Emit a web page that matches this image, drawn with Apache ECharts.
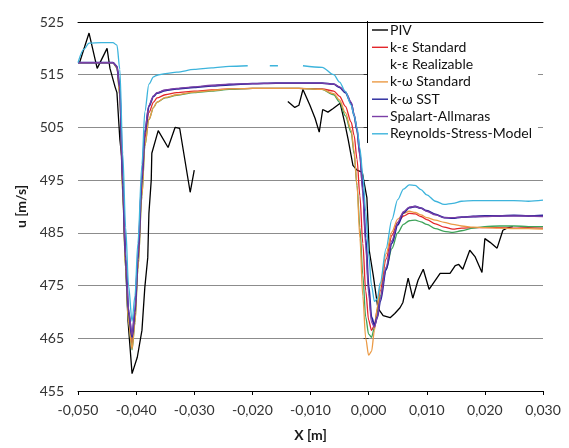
<!DOCTYPE html>
<html>
<head>
<meta charset="utf-8">
<script src="https://cdn.jsdelivr.net/npm/echarts@6/dist/echarts.min.js"></script>
<style>
  html, body { margin: 0; padding: 0; background: #fff; }
  #chart { width: 569px; height: 448px; }
</style>
</head>
<body>
<div id="chart"></div>
<script>
// Streamwise velocity u along X: PIV measurement and six turbulence models

// shared X stations of the simulation profiles [m]
const xModel = [
  -0.0500, -0.0490, -0.0481, -0.0460, -0.0440, -0.0433, -0.0428, -0.0423, -0.0418, -0.0413,
  -0.0407, -0.0402, -0.0397, -0.0390, -0.0385, -0.0378, -0.0370, -0.0364, -0.0350, -0.0330,
  -0.0300, -0.0270, -0.0240, -0.0200, -0.0160, -0.0120, -0.0080, -0.0060, -0.0050, -0.0040,
  -0.0030, -0.0025, -0.0020, -0.0015, -0.0010, -0.0005, 0.0000, 0.0005, 0.0010, 0.0015,
  0.0020, 0.0030, 0.0040, 0.0050, 0.0060, 0.0070, 0.0080, 0.0090, 0.0100, 0.0115,
  0.0130, 0.0145, 0.0160, 0.0180, 0.0200, 0.0225, 0.0250, 0.0275, 0.0300
];

const uKEpsStandard = [
  517.3, 517.3, 517.3, 517.3, 517.3, 516.4, 511.5, 493.0, 479.0, 469.0,
  463.8, 469.0, 479.0, 494.0, 503.0, 507.8, 509.8, 510.6, 511.2, 511.6,
  511.9, 512.1, 512.3, 512.4, 512.4, 512.4, 512.3, 511.9, 510.9, 509.0,
  506.0, 503.5, 499.0, 492.0, 483.0, 474.0, 468.5, 466.5, 467.5, 470.5,
  474.0, 480.0, 484.5, 487.0, 488.2, 488.7, 488.6, 488.1, 487.5, 486.7,
  486.1, 485.7, 485.9, 486.0, 486.0, 486.0, 485.9, 486.0, 485.9
];

const uKEpsRealizable = [
  517.3, 517.3, 517.3, 517.3, 517.3, 516.3, 511.0, 492.0, 478.0, 468.0,
  462.8, 468.0, 478.0, 492.0, 501.5, 506.5, 508.8, 509.8, 510.6, 511.1,
  511.6, 511.9, 512.2, 512.4, 512.4, 512.4, 512.2, 511.2, 509.8, 507.2,
  504.0, 500.0, 494.0, 486.0, 477.0, 469.0, 465.8, 465.2, 467.0, 470.0,
  473.0, 478.0, 482.0, 485.0, 486.6, 487.3, 487.4, 487.1, 486.6, 485.8,
  485.3, 485.1, 485.4, 485.9, 486.2, 486.3, 486.3, 486.2, 486.2
];

const uKOmegaStandard = [
  517.3, 517.3, 517.3, 517.3, 517.3, 516.3, 511.0, 492.0, 478.0, 468.0,
  463.0, 468.0, 478.0, 492.0, 501.5, 506.5, 508.8, 509.8, 510.7, 511.2,
  511.7, 512.0, 512.3, 512.4, 512.4, 512.4, 512.2, 511.4, 510.2, 507.8,
  504.5, 500.5, 494.0, 484.0, 473.0, 465.0, 461.8, 462.5, 466.5, 471.0,
  475.0, 481.0, 485.2, 487.6, 488.7, 489.1, 488.9, 488.4, 487.9, 487.4,
  487.0, 486.6, 486.3, 486.1, 486.0, 485.9, 485.8, 485.8, 485.7
];

const uKOmegaSST = [
  517.3, 517.3, 517.3, 517.3, 517.3, 516.6, 512.5, 494.0, 480.0, 470.0,
  465.2, 470.0, 480.0, 495.0, 504.0, 509.0, 510.9, 511.5, 512.0, 512.3,
  512.6, 512.9, 513.1, 513.3, 513.4, 513.4, 513.4, 513.2, 512.6, 511.6,
  509.6, 507.3, 504.5, 500.0, 493.5, 484.0, 475.0, 469.0, 467.5, 469.0,
  472.0, 478.0, 483.0, 486.5, 488.8, 489.8, 490.0, 489.7, 489.2, 488.5,
  487.9, 487.8, 488.0, 488.1, 488.2, 488.2, 488.3, 488.2, 488.3
];

const uSpalartAllmaras = [
  517.3, 517.3, 517.3, 517.3, 517.3, 516.6, 512.5, 494.5, 480.5, 470.5,
  465.5, 470.5, 480.5, 495.5, 504.3, 509.2, 511.0, 511.6, 512.1, 512.4,
  512.7, 513.0, 513.2, 513.3, 513.4, 513.4, 513.4, 513.2, 512.7, 511.8,
  509.8, 507.5, 504.5, 499.5, 492.5, 482.5, 473.5, 468.0, 467.1, 469.0,
  472.5, 478.5, 483.5, 487.0, 489.0, 489.9, 490.0, 489.7, 489.1, 488.4,
  487.9, 487.9, 488.0, 488.1, 488.1, 488.2, 488.2, 488.2, 488.1
];

// Reynolds-Stress-Model has its own stations (two short gaps in the profile)
const xRsm = [
  -0.0500, -0.0490, -0.0481, -0.0460, -0.0440, -0.0433, -0.0428, -0.0423, -0.0418, -0.0413,
  -0.0407, -0.0402, -0.0397, -0.0390, -0.0385, -0.0378, -0.0370, -0.0364, -0.0350, -0.0330,
  -0.0300, -0.0270, -0.0240, -0.0208, -0.0190, -0.0170, -0.0156, -0.0135, -0.0113, -0.0080,
  -0.0060, -0.0050, -0.0040, -0.0030, -0.0025, -0.0020, -0.0015, -0.0010, -0.0005, 0.0000,
  0.0005, 0.0010, 0.0015, 0.0020, 0.0030, 0.0040, 0.0050, 0.0060, 0.0070, 0.0080,
  0.0090, 0.0100, 0.0115, 0.0130, 0.0145, 0.0160, 0.0180, 0.0200, 0.0225, 0.0250,
  0.0275, 0.0300
];
const uRsm = [
  517.3, 519.8, 521.0, 521.1, 521.1, 520.6, 516.0, 500.0, 486.0, 475.0,
  468.2, 473.0, 483.0, 498.0, 508.0, 513.2, 514.6, 514.9, 515.2, 515.5,
  516.0, 516.3, 516.6, 516.7, null, 516.7, 516.7, null, 516.7, 516.4,
  515.0, 513.6, 511.8, 509.2, 507.3, 505.0, 501.0, 496.0, 489.0, 481.0,
  475.0, 472.0, 472.5, 475.5, 482.0, 487.5, 491.3, 493.3, 494.1, 494.0,
  493.2, 492.2, 491.0, 490.4, 490.6, 491.0, 491.1, 491.1, 491.1, 491.1,
  491.0, 491.2
];

// PIV measurement (no data between the two windows)
const xPiv = [
  -0.0497, -0.0481, -0.0467, -0.0450, -0.0445, -0.0436, -0.0433, -0.0428, -0.0424, -0.0419,
  -0.0414, -0.0407, -0.0398, -0.0390, -0.0385, -0.0380, -0.0378, -0.0374, -0.0373, -0.0362,
  -0.0345, -0.0333, -0.0325, -0.0307, -0.0300,
  -0.0200,
  -0.0139, -0.0127, -0.0120, -0.0113, -0.0101, -0.0092, -0.0085, -0.0079, -0.0070, -0.0061,
  -0.0049, -0.0041, -0.0035, -0.0027, -0.0020, -0.0011, -0.0003, -0.0001, 0.0001, 0.0008,
  0.0016, 0.0025, 0.0037, 0.0045, 0.0054, 0.0059, 0.0068, 0.0076, 0.0085, 0.0094,
  0.0104, 0.0123, 0.0140, 0.0149, 0.0155, 0.0162, 0.0174, 0.0183, 0.0195, 0.0200,
  0.0209, 0.0221, 0.0231, 0.0240, 0.0248
];
const uPiv = [
  517.4, 522.9, 516.2, 520.0, 516.2, 512.6, 511.6, 502.7, 498.7, 481.7,
  468.4, 458.3, 461.4, 466.5, 474.7, 480.3, 488.7, 495.0, 500.1, 504.4,
  501.2, 505.0, 504.8, 492.7, 496.9,
  null,
  509.9, 508.8, 509.2, 512.2, 509.2, 506.7, 504.1, 508.4, 507.9, 508.6,
  509.6, 505.8, 502.6, 497.8, 496.9, 496.5, 491.7, 486.8, 481.7, 476.9,
  470.7, 469.3, 468.9, 469.7, 470.8, 471.8, 476.4, 472.6, 476.0, 478.1,
  474.3, 477.3, 477.3, 478.8, 479.0, 478.1, 481.7, 480.5, 477.5, 483.9,
  483.2, 482.1, 485.5, 486.0, 486.2
];

const seriesNames = [
  'PIV', 'k-ε Standard', 'k-ε Realizable', 'k-ω Standard',
  'k-ω SST', 'Spalart-Allmaras', 'Reynolds-Stress-Model'
];
const seriesColors = ['#000000', '#e3262b', '#3fa35a', '#eb9a45', '#23239a', '#7b3fa6', '#3db4dc'];

const FONT = 'Lato, "Noto Sans", "DejaVu Sans", sans-serif';

function pairs(xs, us) {
  return xs.map((x, i) => [x, us[i] === null ? '-' : us[i]]);
}

const profiles = [
  [xPiv, uPiv],
  [xModel, uKEpsStandard],
  [xModel, uKEpsRealizable],
  [xModel, uKOmegaStandard],
  [xModel, uKOmegaSST],
  [xModel, uSpalartAllmaras],
  [xRsm, uRsm]
];

const series = profiles.map(([xs, us], i) => ({
  name: seriesNames[i],
  type: 'line',
  data: pairs(xs, us),
  symbol: 'none',
  showSymbol: false,
  smooth: i === 0 ? false : 0.3,
  smoothMonotone: 'x',
  connectNulls: false,
  lineStyle: { color: seriesColors[i], width: i === 4 ? 1.8 : 1.3 },
  itemStyle: { color: seriesColors[i] },
  z: 2 + i,
  animation: false
}));

const chart = echarts.init(document.getElementById('chart'), null, { renderer: 'canvas' });

chart.setOption({
  animation: false,
  backgroundColor: '#ffffff',
  grid: { left: 78, right: 26, top: 22, bottom: 57, containLabel: false },
  xAxis: [
    {
      type: 'value',
      min: -0.05, max: 0.03, interval: 0.01,
      position: 'bottom',
      name: 'X [m]',
      nameLocation: 'middle',
      nameGap: 37,
      nameTextStyle: { fontFamily: FONT, fontSize: 14, fontWeight: 'bold', color: '#1a1a1a' },
      axisLine: { show: true, onZero: false, lineStyle: { color: '#000', width: 1 } },
      axisTick: { show: true, length: 4, lineStyle: { color: '#000' } },
      splitLine: { show: false },
      axisLabel: {
        fontFamily: FONT, fontSize: 14, color: '#333', margin: 12,
        formatter: v => (Math.abs(v) < 1e-9 ? 0 : v).toFixed(3).replace('.', ',')
      },
      z: 5
    },
    {
      type: 'value',
      min: -0.05, max: 0.03,
      position: 'top',
      axisLine: { show: true, onZero: false, lineStyle: { color: '#000', width: 1 } },
      axisTick: { show: false },
      axisLabel: { show: false },
      splitLine: { show: false },
      z: 5
    }
  ],
  yAxis: {
    type: 'value',
    min: 455, max: 525, interval: 10,
    name: 'u [m/s]',
    nameLocation: 'middle',
    nameRotate: 90,
    nameGap: 44,
    nameTextStyle: { fontFamily: FONT, fontSize: 14, fontWeight: 'bold', color: '#1a1a1a' },
    axisLine: { show: false },
    axisTick: { show: true, length: 5, lineStyle: { color: '#333' } },
    splitLine: { show: true, lineStyle: { color: '#8c8c8c', width: 1 } },
    axisLabel: { fontFamily: FONT, fontSize: 14, color: '#333', margin: 14 }
  },
  legend: {
    orient: 'vertical',
    left: 367, top: 21,
    padding: [0.5, 6, 0, 5],
    itemGap: 0.3,
    icon: 'rect',
    itemWidth: 16,
    itemHeight: 1.4,
    backgroundColor: '#ffffff',
    borderWidth: 0,
    textStyle: { fontFamily: FONT, fontSize: 14, color: '#111', lineHeight: 17, padding: [0, 0, 0, -3] },
    data: seriesNames.map(n => n === 'k-ε Realizable'
      ? { name: n, itemStyle: { opacity: 0 } }
      : { name: n })
  },
  graphic: [
    {
      type: 'line',
      shape: { x1: 367.5, y1: 21, x2: 367.5, y2: 143 },
      style: { stroke: '#000', lineWidth: 1 },
      z: 10
    }
  ],
  series: series
});
</script>
</body>
</html>
